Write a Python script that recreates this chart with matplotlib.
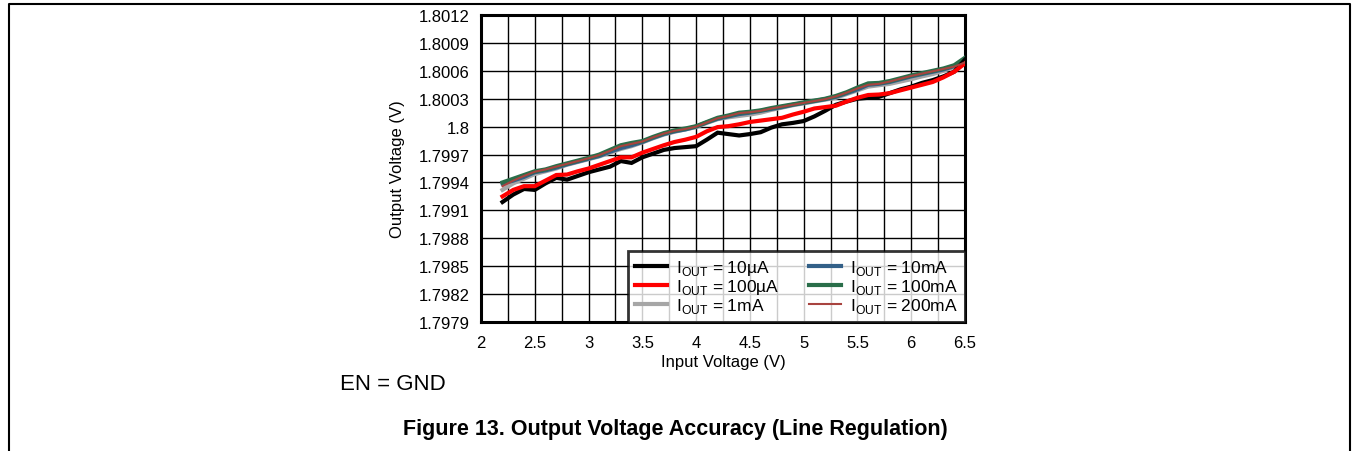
import numpy as np
import matplotlib
matplotlib.use("Agg")
import matplotlib.pyplot as plt
from matplotlib.lines import Line2D

plt.rcParams['font.family'] = ['Liberation Sans', 'DejaVu Sans']
plt.rcParams['mathtext.fontset'] = 'custom'
plt.rcParams['mathtext.rm'] = 'Liberation Sans'

# input voltage sweep
vin = [2.2, 2.3, 2.4, 2.5, 2.6, 2.7, 2.8, 2.9, 3.0, 3.1, 3.2, 3.3, 3.4, 3.5, 3.6,
       3.7, 3.8, 3.9, 4.0, 4.1, 4.2, 4.3, 4.4, 4.5, 4.6, 4.7, 4.8, 4.9, 5.0, 5.1,
       5.2, 5.3, 5.4, 5.5, 5.6, 5.7, 5.8, 5.9, 6.0, 6.1, 6.2, 6.3, 6.4, 6.5]

# output voltage per load current (V)
vout_10ua = [1.79919, 1.79927, 1.79933, 1.79932, 1.79939, 1.79945, 1.79943, 1.79947,
             1.79951, 1.79954, 1.79957, 1.79963, 1.79961, 1.79967, 1.79971, 1.79975,
             1.79977, 1.79978, 1.79979, 1.79986, 1.799935, 1.79992, 1.799905, 1.79992,
             1.79994, 1.79999, 1.800025, 1.80004, 1.80006, 1.80011, 1.80017, 1.800235,
             1.80027, 1.80030, 1.80031, 1.80032, 1.80036, 1.80040, 1.80043, 1.80047,
             1.80050, 1.80054, 1.80059, 1.80072]
vout_100ua = [1.79925, 1.79932, 1.79936, 1.79936, 1.79942, 1.79948, 1.799485, 1.79952,
              1.79955, 1.79959, 1.79963, 1.79967, 1.79967, 1.79972, 1.79976, 1.79980,
              1.799835, 1.79986, 1.79989, 1.79995, 1.799995, 1.800005, 1.800025, 1.80005,
              1.800065, 1.80008, 1.800095, 1.80013, 1.80016, 1.800195, 1.80021, 1.800225,
              1.80027, 1.80031, 1.80034, 1.800345, 1.80036, 1.80039, 1.80042, 1.80045,
              1.80048, 1.80053, 1.80059, 1.80068]
vout_1ma = [1.79932, 1.79939, 1.79944, 1.79949, 1.79952, 1.79955, 1.79959, 1.79962,
            1.79965, 1.79968, 1.79972, 1.79976, 1.79979, 1.79983, 1.799875, 1.799915,
            1.799945, 1.79997, 1.799995, 1.80004, 1.80008, 1.80010, 1.800115, 1.80013,
            1.80015, 1.80018, 1.800205, 1.80023, 1.80025, 1.80027, 1.80029, 1.80031,
            1.80035, 1.80039, 1.80043, 1.800445, 1.80046, 1.800485, 1.80051, 1.80054,
            1.800565, 1.80060, 1.80064, 1.80070]
vout_10ma = [1.79939, 1.79942, 1.79946, 1.79951, 1.79953, 1.79956, 1.799595, 1.799625,
             1.799655, 1.799685, 1.79973, 1.79977, 1.79980, 1.799835, 1.79988, 1.79992,
             1.79995, 1.79997, 1.80000, 1.800045, 1.800085, 1.80011, 1.800135, 1.80015,
             1.80017, 1.80019, 1.80021, 1.800235, 1.800255, 1.800275, 1.800295, 1.80032,
             1.80036, 1.80040, 1.80045, 1.80046, 1.80048, 1.80051, 1.80054, 1.800565,
             1.80059, 1.800615, 1.80065, 1.80073]
vout_100ma = [1.79940, 1.79944, 1.79948, 1.79952, 1.79954, 1.799575, 1.799605, 1.799635,
              1.799665, 1.79970, 1.79975, 1.79980, 1.799825, 1.799845, 1.79989, 1.79993,
              1.79996, 1.79998, 1.800005, 1.80005, 1.800095, 1.80012, 1.80015, 1.80016,
              1.800175, 1.80020, 1.80022, 1.80024, 1.80026, 1.80028, 1.80030, 1.80033,
              1.80037, 1.80042, 1.800465, 1.80047, 1.80049, 1.80052, 1.80055, 1.800575,
              1.80060, 1.800625, 1.80066, 1.80074]
vout_200ma = [1.79936, 1.79942, 1.79947, 1.799515, 1.79954, 1.79957, 1.79960, 1.79963,
              1.79966, 1.799695, 1.79974, 1.79979, 1.799815, 1.79984, 1.799885, 1.799925,
              1.799955, 1.799975, 1.80000, 1.800045, 1.80009, 1.800115, 1.800145, 1.800155,
              1.80017, 1.800195, 1.800215, 1.800235, 1.800255, 1.800275, 1.800295, 1.800325,
              1.800365, 1.80041, 1.80045, 1.80046, 1.800485, 1.800515, 1.800545, 1.80057,
              1.800595, 1.80062, 1.800645, 1.80069]

labels = [r'I$_{\mathrm{OUT}}$ = 10µA', r'I$_{\mathrm{OUT}}$ = 100µA',
          r'I$_{\mathrm{OUT}}$ = 1mA', r'I$_{\mathrm{OUT}}$ = 10mA',
          r'I$_{\mathrm{OUT}}$ = 100mA', r'I$_{\mathrm{OUT}}$ = 200mA']
series = [vout_10ua, vout_100ua, vout_1ma, vout_10ma, vout_100ma, vout_200ma]
colors = ['#000000', '#ff0000', '#a6a6a6', '#336088', '#2a6e4a', '#a8433f']
widths = [3.0, 3.0, 3.0, 3.0, 3.0, 1.5]

yticks = [1.7979, 1.7982, 1.7985, 1.7988, 1.7991, 1.7994, 1.7997, 1.8,
          1.8003, 1.8006, 1.8009, 1.8012]
ytick_labels = ['1.7979', '1.7982', '1.7985', '1.7988', '1.7991', '1.7994',
                '1.7997', '1.8', '1.8003', '1.8006', '1.8009', '1.8012']
xticks = [2, 2.5, 3, 3.5, 4, 4.5, 5, 5.5, 6, 6.5]

fig = plt.figure(figsize=(13.53, 4.52), dpi=100)
ax = fig.add_axes([0.3555, 0.2854, 0.3577, 0.6792])

# plot order: upper group first so black/red stay visible, brown thin on top
order = [2, 3, 4, 0, 1, 5]
handles = {}
for i in order:
    h, = ax.plot(vin, series[i], color=colors[i], lw=widths[i], solid_joinstyle='miter',
                 label=labels[i], zorder=3)
    handles[i] = h

ax.set_xlim(2, 6.5)
ax.set_ylim(1.7979, 1.8012)
ax.set_xticks(xticks)
ax.set_xticklabels(['2', '2.5', '3', '3.5', '4', '4.5', '5', '5.5', '6', '6.5'])
ax.set_xticks(np.arange(2, 6.51, 0.25), minor=True)
ax.set_yticks(yticks)
ax.set_yticklabels(ytick_labels)
ax.grid(True, which='both', color='black', lw=1.0, zorder=1)
ax.set_axisbelow(True)
ax.tick_params(which='both', length=0, labelsize=12)
ax.tick_params(axis='y', pad=8)
ax.tick_params(axis='x', pad=9.5)

for s in ax.spines.values():
    s.set_linewidth(2.2)

ax.set_xlabel('Input Voltage (V)', fontsize=12, labelpad=3)
ax.set_ylabel('Output Voltage (V)', fontsize=12, labelpad=10)

leg = ax.legend([handles[i] for i in range(6)], labels, ncol=2, loc='lower right',
                fontsize=12.5, frameon=True, fancybox=False, borderaxespad=0,
                handlelength=1.85, columnspacing=1.7, labelspacing=0.0,
                borderpad=0.4, handletextpad=0.5)
leg.get_frame().set_edgecolor('black')
leg.get_frame().set_linewidth(2.0)
leg.set_zorder(5)

fig.text(340 / 1353, 1 - 385 / 452, 'EN = GND', fontsize=16, va='center', ha='left')
fig.text(675 / 1353, 1 - 430 / 452, 'Figure 13. Output Voltage Accuracy (Line Regulation)',
         fontsize=15.5, fontweight='bold', ha='center', va='center')

# open page frame around the figure
fx0, fx1, fy0 = 8.5 / 1353, 1350 / 1353, 1 - 4.5 / 452
fig.add_artist(Line2D([fx0, fx0, fx1, fx1], [0, fy0, fy0, 0], color='black', lw=1.5,
                      transform=fig.transFigure))

fig.savefig('out.png', dpi=100)
